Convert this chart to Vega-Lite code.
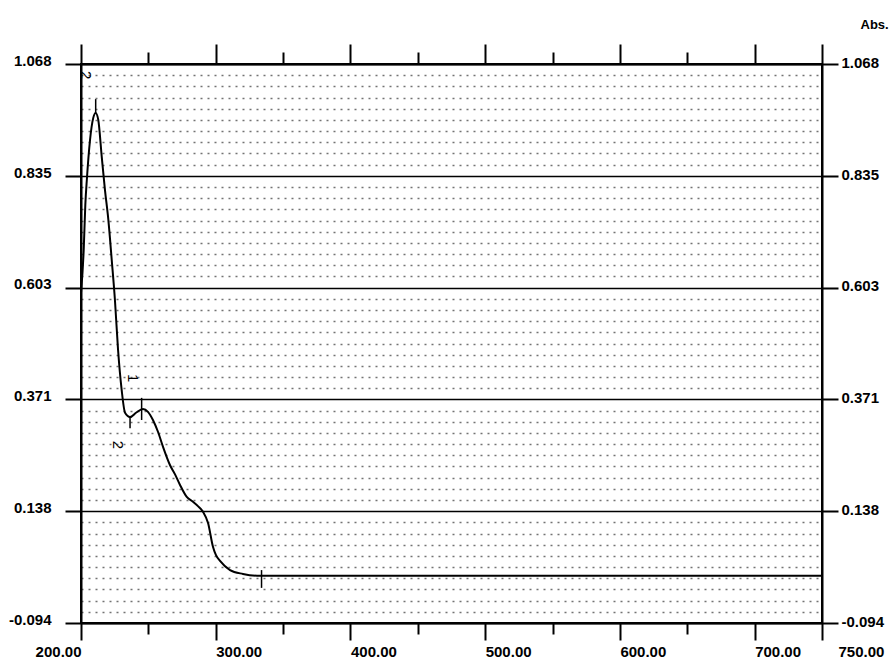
{
  "$schema": "https://vega.github.io/schema/vega-lite/v6.json",
  "width": 741,
  "height": 559,
  "autosize": {"type": "none"},
  "padding": {"left": 81, "top": 64, "right": 67, "bottom": 39},
  "background": "white",
  "config": {
    "view": {"stroke": "black", "strokeWidth": 2},
    "axis": {
      "labelFont": "Liberation Sans Narrow, Liberation Sans, sans-serif",
      "labelFontSize": 15,
      "labelFontWeight": "bold",
      "labelColor": "black",
      "tickColor": "black",
      "tickWidth": 2,
      "domainColor": "black",
      "domainWidth": 2,
      "labelFlush": false,
      "labelOverlap": false,
      "titleFont": "Liberation Sans Narrow, Liberation Sans, sans-serif"
    }
  },
  "datasets": {
    "spectrum": [
      {"wavelength": 200.0, "abs": 0.592},
      {"wavelength": 202.0, "abs": 0.681},
      {"wavelength": 203.2, "abs": 0.775},
      {"wavelength": 204.4, "abs": 0.83},
      {"wavelength": 206.7, "abs": 0.910},
      {"wavelength": 209.1, "abs": 0.956},
      {"wavelength": 210.9, "abs": 0.966},
      {"wavelength": 212.8, "abs": 0.952},
      {"wavelength": 215.4, "abs": 0.875},
      {"wavelength": 217.8, "abs": 0.806},
      {"wavelength": 220.3, "abs": 0.744},
      {"wavelength": 222.8, "abs": 0.661},
      {"wavelength": 225.2, "abs": 0.577},
      {"wavelength": 227.5, "abs": 0.474},
      {"wavelength": 230.2, "abs": 0.390},
      {"wavelength": 232.7, "abs": 0.343},
      {"wavelength": 236.4, "abs": 0.334},
      {"wavelength": 240.8, "abs": 0.343},
      {"wavelength": 246.0, "abs": 0.351},
      {"wavelength": 249.7, "abs": 0.345},
      {"wavelength": 253.4, "abs": 0.328},
      {"wavelength": 257.2, "abs": 0.303},
      {"wavelength": 260.9, "abs": 0.272},
      {"wavelength": 266.1, "abs": 0.234},
      {"wavelength": 269.8, "abs": 0.215},
      {"wavelength": 273.5, "abs": 0.193},
      {"wavelength": 278.5, "abs": 0.168},
      {"wavelength": 283.1, "abs": 0.158},
      {"wavelength": 286.8, "abs": 0.149},
      {"wavelength": 290.6, "abs": 0.137},
      {"wavelength": 294.3, "abs": 0.114},
      {"wavelength": 298.0, "abs": 0.064},
      {"wavelength": 300.2, "abs": 0.047},
      {"wavelength": 303.2, "abs": 0.035},
      {"wavelength": 310.6, "abs": 0.016},
      {"wavelength": 320.2, "abs": 0.008},
      {"wavelength": 332.9, "abs": 0.004},
      {"wavelength": 400.0, "abs": 0.004},
      {"wavelength": 500.0, "abs": 0.004},
      {"wavelength": 600.0, "abs": 0.004},
      {"wavelength": 700.0, "abs": 0.004},
      {"wavelength": 750.0, "abs": 0.004}
    ],
    "markers": [
      {"wavelength": 210.9, "low": 0.966, "high": 0.995},
      {"wavelength": 236.4, "low": 0.311, "high": 0.334},
      {"wavelength": 245.0, "low": 0.328, "high": 0.374},
      {"wavelength": 334.0, "low": -0.021, "high": 0.016}
    ],
    "labels": [
      {"wavelength": 203.7, "abs": 1.045, "label": "2"},
      {"wavelength": 227.5, "abs": 0.276, "label": "2"},
      {"wavelength": 238.6, "abs": 0.415, "label": "1"}
    ]
  },
  "resolve": {"axis": {"x": "independent", "y": "independent"}},
  "layer": [
    {
      "data": {"name": "spectrum"},
      "mark": {"type": "line", "color": "black", "strokeWidth": 2, "interpolate": "monotone"},
      "encoding": {
        "x": {
          "field": "wavelength", "type": "quantitative",
          "scale": {"domain": [200, 750], "nice": false, "zero": false},
          "axis": {
            "orient": "bottom", "title": null, "grid": false,
            "values": [200, 250, 300, 350, 400, 450, 500, 550, 600, 650, 700, 750],
            "labelExpr": "datum.value % 100 == 0 || datum.value == 750 ? format(datum.value, '.2f') : ''",
            "tickSize": {"condition": {"test": "datum.value % 100 == 0 || datum.value == 750", "value": 17}, "value": 11},
            "labelAlign": {"condition": {"test": "datum.value == 200", "value": "right"}, "value": "left"},
            "labelOffset": {"condition": {"test": "datum.value == 750", "value": 16}, "value": 0},
            "labelBaseline": "top",
            "labelPadding": 4
          }
        },
        "y": {
          "field": "abs", "type": "quantitative",
          "scale": {"domain": [-0.094, 1.068], "nice": false, "zero": false},
          "axis": {
            "orient": "left", "title": null,
            "values": [-0.094, 0.138, 0.371, 0.603, 0.835, 1.068],
            "labelExpr": "datum.value < 0 ? '-' + format(-datum.value, '.3f') : format(datum.value, '.3f')",
            "tickSize": 16,
            "labelPadding": 14,
            "labelBaseline": "alphabetic",
            "labelOffset": 1,
            "grid": true, "gridColor": "black", "gridWidth": 1.6, "gridOpacity": 1
          }
        }
      }
    },
    {
      "data": {"name": "markers"},
      "mark": {"type": "rule", "color": "black", "strokeWidth": 1.5},
      "encoding": {
        "x": {
          "field": "wavelength", "type": "quantitative",
          "axis": {
            "orient": "top", "title": null, "grid": false, "labels": false,
            "values": [200, 250, 300, 350, 400, 450, 500, 550, 600, 650, 700, 750],
            "tickSize": {"condition": {"test": "datum.value % 100 == 0 || datum.value == 750", "value": 20}, "value": 12}
          }
        },
        "y": {
          "field": "low", "type": "quantitative",
          "axis": {
            "orient": "right", "title": "Abs.", "grid": false,
            "values": [-0.094, 0.138, 0.371, 0.603, 0.835, 1.068],
            "labelExpr": "datum.value < 0 ? '-' + format(-datum.value, '.3f') : format(datum.value, '.3f')",
            "tickSize": 16,
            "labelPadding": 3,
            "labelAlign": "left",
            "labelBaseline": "alphabetic",
            "labelOffset": 3,
            "titleAngle": 0, "titleAlign": "left", "titleBaseline": "alphabetic",
            "titleX": 38, "titleY": -36,
            "titleFontSize": 13, "titleFontWeight": "bold", "titleColor": "black"
          }
        },
        "y2": {"field": "high"}
      }
    },
    {
      "data": {"name": "labels"},
      "mark": {"type": "text", "angle": 90, "fontSize": 15, "color": "black", "font": "Liberation Sans Narrow, Liberation Sans, sans-serif"},
      "encoding": {
        "x": {"field": "wavelength", "type": "quantitative", "axis": null},
        "y": {
          "field": "abs", "type": "quantitative",
          "axis": {
            "orient": "left", "title": null, "labels": false, "ticks": false, "domain": false,
            "grid": true, "gridColor": "black", "gridWidth": 1.3, "gridOpacity": 0.55, "gridDash": [2, 5],
            "values": [-0.0708, -0.0475, -0.0243, -0.001, 0.0222, 0.0454, 0.0687, 0.0919, 0.1152, 0.1616, 0.1849, 0.2081, 0.2314, 0.2546, 0.2778, 0.3011, 0.3243, 0.3476, 0.394, 0.4173, 0.4405, 0.4638, 0.487, 0.5102, 0.5335, 0.5567, 0.58, 0.6264, 0.6497, 0.6729, 0.6962, 0.7194, 0.7426, 0.7659, 0.7891, 0.8124, 0.8588, 0.8821, 0.9053, 0.9286, 0.9518, 0.975, 0.9983, 1.0215, 1.0448]
          }
        },
        "text": {"field": "label"}
      }
    }
  ]
}
